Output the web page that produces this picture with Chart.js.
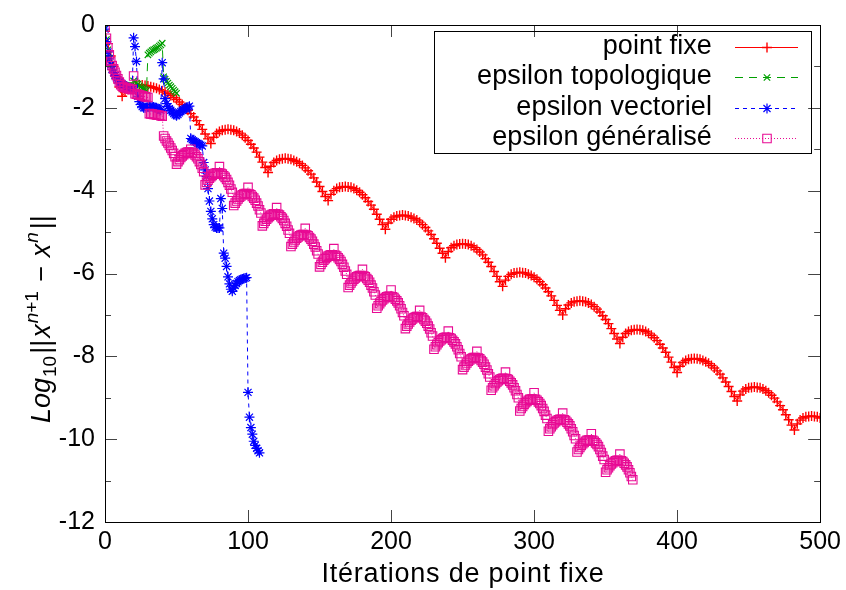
<!DOCTYPE html>
<html>
<head>
<meta charset="utf-8">
<script src="https://cdn.jsdelivr.net/npm/chart.js"></script>
<style>
  html, body { margin: 0; padding: 0; background: #fff; }
  #wrap { width: 846px; height: 590px; }
</style>
</head>
<body>
<div id="wrap"><canvas id="myChart" width="846" height="590"></canvas></div>
<script>
// axes
const xTicks = [0, 100, 200, 300, 400, 500];
const yMajorTicks = [0, -2, -4, -6, -8, -10, -12];
const yMinorTicks = [-1, -3, -5, -7, -9, -11];

const seriesNames = ['point fixe', 'epsilon topologique', 'epsilon vectoriel', 'epsilon généralisé'];

// point fixe : one value every 2 iterations, x = 0 .. 500
const pointFixe = [
  -0.15,-0.45,-0.75,-1.00,-1.25,-1.50,-1.72,-1.62,-1.55,-1.50,
  -1.47,-1.46,-1.45,-1.45,-1.46,-1.47,-1.49,-1.51,-1.53,-1.56,
  -1.59,-1.62,-1.66,-1.70,-1.75,-1.80,-1.86,-1.92,-1.99,-2.06,
  -2.14,-2.22,-2.31,-2.41,-2.52,-2.63,-2.75,
  -2.86,-2.71,-2.62,-2.57,-2.54,-2.53,-2.52,-2.53,-2.54,-2.57,
  -2.61,-2.66,-2.72,-2.79,-2.88,-2.97,-3.07,-3.19,-3.31,-3.44,
  -3.56,-3.41,-3.32,-3.27,-3.24,-3.23,-3.22,-3.23,-3.24,-3.27,
  -3.30,-3.34,-3.39,-3.45,-3.52,-3.60,-3.69,-3.79,-3.90,-4.02,-4.14,
  -4.24,-4.09,-4.00,-3.95,-3.92,-3.91,-3.90,-3.91,-3.92,-3.95,
  -3.99,-4.04,-4.10,-4.17,-4.26,-4.35,-4.45,-4.57,-4.69,-4.82,
  -4.93,-4.78,-4.69,-4.64,-4.61,-4.60,-4.59,-4.60,-4.61,-4.64,
  -4.67,-4.71,-4.76,-4.82,-4.89,-4.97,-5.06,-5.16,-5.27,-5.39,-5.51,
  -5.62,-5.47,-5.38,-5.33,-5.30,-5.29,-5.28,-5.29,-5.30,-5.33,
  -5.37,-5.42,-5.48,-5.55,-5.64,-5.73,-5.83,-5.95,-6.07,-6.20,
  -6.31,-6.16,-6.07,-6.02,-5.99,-5.98,-5.97,-5.98,-5.99,-6.02,
  -6.05,-6.09,-6.14,-6.20,-6.27,-6.35,-6.44,-6.54,-6.65,-6.77,-6.89,
  -7.00,-6.85,-6.76,-6.71,-6.68,-6.67,-6.66,-6.67,-6.68,-6.71,
  -6.75,-6.80,-6.86,-6.93,-7.02,-7.11,-7.21,-7.33,-7.45,-7.58,
  -7.69,-7.54,-7.45,-7.40,-7.37,-7.36,-7.35,-7.36,-7.37,-7.40,
  -7.44,-7.49,-7.55,-7.62,-7.71,-7.80,-7.90,-8.02,-8.14,-8.27,
  -8.39,-8.24,-8.15,-8.10,-8.07,-8.06,-8.05,-8.06,-8.07,-8.10,
  -8.13,-8.17,-8.22,-8.28,-8.35,-8.43,-8.52,-8.62,-8.73,-8.85,-8.97,
  -9.08,-8.93,-8.84,-8.79,-8.76,-8.75,-8.74,-8.75,-8.76,-8.79,
  -8.83,-8.88,-8.94,-9.01,-9.10,-9.19,-9.29,-9.41,-9.53,-9.66,
  -9.78,-9.63,-9.54,-9.49,-9.46,-9.45,-9.44,-9.45,-9.46,-9.49
];

// epsilon topologique : every iteration, x = 0 .. 50
const epsTopo = [
  -0.08,-0.35,-0.60,-0.80,-0.95,-1.06,-1.15,-1.22,-1.28,-1.33,
  -1.37,-1.40,-1.42,-1.44,-1.45,-1.46,-1.47,-1.48,-1.49,-1.50,
  -1.35,-1.37,-1.40,-1.43,-1.47,-1.50,-1.52,-1.54,-1.56,-1.58,
  -0.72,-0.68,-0.65,-0.62,-0.60,-0.58,-0.56,-0.54,-0.51,-0.48,
  -0.44,-1.25,-1.31,-1.36,-1.40,-1.45,-1.49,-1.53,-1.57,-1.61,-1.65
];

// epsilon vectoriel : every iteration, x = 0 .. 108
const epsVect = [
  -0.10,-0.40,-0.65,-0.82,-0.96,-1.07,-1.15,-1.22,-1.28,-1.33,
  -1.37,-1.40,-1.43,-1.45,-1.47,-1.49,-1.50,-1.52,-1.53,-1.55,
  -0.31,-0.52,-0.88,-1.72,-1.85,-1.92,-1.97,-2.00,-2.00,-1.99,
  -1.98,-1.97,-1.97,-1.97,-1.98,-1.99,-2.00,-2.02,-2.04,-2.06,
  -0.91,-1.30,-1.78,-1.90,-1.97,-2.02,-2.06,-2.10,-2.14,-2.17,
  -2.19,-2.16,-2.12,-2.09,-2.06,-2.04,-2.02,-2.00,-1.98,-1.96,
  -2.74,-2.77,-2.80,-2.82,-2.84,-2.86,-2.88,-2.90,-2.92,-3.32,
  -3.50,-3.66,-3.95,-4.25,-4.50,-4.68,-4.82,-4.88,-4.90,-4.90,
  -4.90,-4.19,-4.43,-5.51,-5.63,-5.83,-6.08,-6.25,-6.38,-6.43,
  -6.35,-6.29,-6.24,-6.20,-6.17,-6.15,-6.13,-6.12,-6.11,-6.10,
  -8.87,-9.47,-9.72,-9.88,-10.05,-10.15,-10.22,-10.28,-10.33
];

// epsilon généralisé : every iteration, x = 0 .. 369
const epsGen = [
  -0.05,-0.32,-0.55,-0.72,-0.88,-0.98,-1.06,-1.14,-1.22,-1.30,
  -1.38,-1.44,-1.48,-1.50,-1.51,-1.52,-1.53,-1.54,-1.55,-1.56,
  -1.23,-1.66,-1.67,-1.68,-1.69,-1.70,-1.71,-1.72,-1.73,-1.74,
  -1.75,-2.14,-2.15,-2.15,-2.16,-2.16,-2.17,-2.18,-2.18,-2.19,
  -2.20,-2.68,-2.74,-2.80,-2.85,-2.91,-2.97,-3.03,-3.10,-3.18,
  -3.36,-3.30,-3.25,-3.20,-3.16,-3.13,-3.10,-3.08,-3.07,-3.07,
  -3.00,-3.08,-3.10,-3.14,-3.18,-3.23,-3.30,-3.37,-3.46,-3.54,
  -3.86,-3.80,-3.75,-3.70,-3.66,-3.63,-3.60,-3.58,-3.57,-3.57,
  -3.42,-3.58,-3.60,-3.64,-3.68,-3.73,-3.80,-3.87,-3.96,-4.04,
  -4.36,-4.30,-4.25,-4.20,-4.16,-4.13,-4.10,-4.08,-4.07,-4.07,
  -3.92,-4.08,-4.10,-4.14,-4.18,-4.23,-4.30,-4.37,-4.46,-4.54,
  -4.85,-4.79,-4.74,-4.69,-4.65,-4.62,-4.59,-4.57,-4.56,-4.56,
  -4.41,-4.57,-4.59,-4.63,-4.67,-4.72,-4.79,-4.86,-4.95,-5.03,
  -5.35,-5.29,-5.24,-5.19,-5.15,-5.12,-5.09,-5.07,-5.06,-5.06,
  -4.91,-5.07,-5.09,-5.13,-5.17,-5.22,-5.29,-5.36,-5.45,-5.53,
  -5.84,-5.78,-5.73,-5.68,-5.64,-5.61,-5.58,-5.56,-5.55,-5.55,
  -5.40,-5.56,-5.58,-5.62,-5.66,-5.71,-5.78,-5.85,-5.94,-6.02,
  -6.34,-6.28,-6.23,-6.18,-6.14,-6.11,-6.08,-6.06,-6.05,-6.05,
  -5.90,-6.06,-6.08,-6.12,-6.16,-6.21,-6.28,-6.35,-6.44,-6.52,
  -6.84,-6.78,-6.73,-6.68,-6.64,-6.61,-6.58,-6.56,-6.55,-6.55,
  -6.40,-6.56,-6.58,-6.62,-6.66,-6.71,-6.78,-6.85,-6.94,-7.02,
  -7.33,-7.27,-7.22,-7.17,-7.13,-7.10,-7.07,-7.05,-7.04,-7.04,
  -6.89,-7.05,-7.07,-7.11,-7.15,-7.20,-7.27,-7.34,-7.43,-7.51,
  -7.83,-7.77,-7.72,-7.67,-7.63,-7.60,-7.57,-7.55,-7.54,-7.54,
  -7.39,-7.55,-7.57,-7.61,-7.65,-7.70,-7.77,-7.84,-7.93,-8.01,
  -8.32,-8.26,-8.21,-8.16,-8.12,-8.09,-8.06,-8.04,-8.03,-8.03,
  -7.88,-8.04,-8.06,-8.10,-8.14,-8.19,-8.26,-8.33,-8.42,-8.50,
  -8.82,-8.76,-8.71,-8.66,-8.62,-8.59,-8.56,-8.54,-8.53,-8.53,
  -8.38,-8.54,-8.56,-8.60,-8.64,-8.69,-8.76,-8.83,-8.92,-9.00,
  -9.32,-9.26,-9.21,-9.16,-9.12,-9.09,-9.06,-9.04,-9.03,-9.03,
  -8.88,-9.04,-9.06,-9.10,-9.14,-9.19,-9.26,-9.33,-9.42,-9.50,
  -9.81,-9.75,-9.70,-9.65,-9.61,-9.58,-9.55,-9.53,-9.52,-9.52,
  -9.37,-9.53,-9.55,-9.59,-9.63,-9.68,-9.75,-9.82,-9.91,-9.99,
  -10.31,-10.25,-10.20,-10.15,-10.11,-10.08,-10.05,-10.03,-10.02,-10.02,
  -9.87,-10.03,-10.05,-10.09,-10.13,-10.18,-10.25,-10.32,-10.41,-10.49,
  -10.80,-10.74,-10.69,-10.64,-10.60,-10.57,-10.54,-10.52,-10.51,-10.51,
  -10.36,-10.52,-10.54,-10.58,-10.62,-10.67,-10.74,-10.81,-10.90,-10.98
];

function toPoints(values, start, step) {
  return values.map((v, i) => ({ x: start + i * step, y: v }));
}

// no serif face renders in this environment, so a light sans is used
const face = '"Liberation Sans", Arial, sans-serif';

const styles = [
  { color: 'rgb(255,0,0)',    dash: [],     point: 'cross',    radius: 5,   width: 1.4 },
  { color: 'rgb(0,160,0)',    dash: [8, 6], point: 'crossRot', radius: 4.5, width: 1.2 },
  { color: 'rgb(0,0,255)',    dash: [4, 4], point: 'star',     radius: 5,   width: 1.2 },
  { color: 'rgb(232,10,148)', dash: [1, 2], point: 'rect',     radius: 6,   width: 1.1 }
];

const seriesData = [
  toPoints(pointFixe, 0, 2),
  toPoints(epsTopo, 0, 1),
  toPoints(epsVect, 0, 1),
  toPoints(epsGen, 0, 1)
];

const datasets = seriesNames.map((name, i) => ({
  label: name,
  data: seriesData[i],
  showLine: true,
  borderColor: styles[i].color,
  borderWidth: 1,
  borderDash: styles[i].dash,
  pointStyle: styles[i].point,
  pointRadius: styles[i].radius,
  pointBorderColor: styles[i].color,
  pointBackgroundColor: 'rgba(0,0,0,0)',
  pointBorderWidth: styles[i].width,
  order: 4 - i
}));

// inward ticks on all four sides, border box, titles and key
const frame = {
  id: 'frame',
  afterDatasetsDraw(chart) {
    const { ctx, chartArea: a, scales: { x, y } } = chart;
    ctx.save();
    ctx.setLineDash([]);
    ctx.lineWidth = 1;
    ctx.strokeStyle = '#444';
    ctx.beginPath();
    xTicks.forEach(v => {
      const px = Math.round(x.getPixelForValue(v)) + 0.5;
      ctx.moveTo(px, a.bottom); ctx.lineTo(px, a.bottom - 12);
      ctx.moveTo(px, a.top); ctx.lineTo(px, a.top + 12);
    });
    yMajorTicks.concat(yMinorTicks).forEach(v => {
      const py = Math.round(y.getPixelForValue(v)) + 0.5;
      const len = yMajorTicks.includes(v) ? 12 : 6;
      ctx.moveTo(a.left, py); ctx.lineTo(a.left + len, py);
      ctx.moveTo(a.right, py); ctx.lineTo(a.right - len, py);
    });
    ctx.stroke();
    ctx.strokeStyle = '#000';
    ctx.strokeRect(Math.round(a.left) + 0.5, Math.round(a.top) + 0.5,
      Math.round(a.right - a.left), Math.round(a.bottom - a.top));
    ctx.restore();
  },
  afterDraw(chart) {
    const ctx = chart.ctx;
    ctx.save();
    ctx.fillStyle = '#000';

    // x title
    ctx.font = '27px ' + face;
    ctx.textAlign = 'center';
    ctx.textBaseline = 'alphabetic';
    const tw = ctx.measureText('Itérations de point fixe').width;
    ctx.letterSpacing = Math.max(0, (283 - tw) / 24).toFixed(2) + 'px';
    ctx.fillText('Itérations de point fixe', 463, 582);
    ctx.letterSpacing = '0px';

    // y title, rotated, drawn piece by piece for sub/superscripts
    ctx.save();
    ctx.translate(50, 423);
    ctx.rotate(-Math.PI / 2);
    ctx.textAlign = 'left';
    let cx = 0;
    const piece = (txt, font, dy, gap) => {
      ctx.font = font;
      ctx.fillText(txt, cx, dy);
      cx += ctx.measureText(txt).width + (gap || 0);
    };
    const big = '27px ' + face, bigIt = 'italic 27px ' + face;
    const small = '19px ' + face, smallIt = 'italic 19px ' + face;
    piece('Log', bigIt, 0, 1);
    piece('10', small, 6, 2);
    piece('||', big, 0, 2);
    piece('x', bigIt, 0, 1);
    piece('n', smallIt, -12);
    piece('+1', small, -12, 2);
    piece(' \u2212 ', big, 0, 1);
    piece('x', bigIt, 0, 1);
    piece('n', smallIt, -12, 3);
    piece('||', big, 0);
    ctx.restore();

    // key
    const box = { left: 434, top: 31, right: 811, bottom: 153 };
    ctx.strokeStyle = '#000';
    ctx.lineWidth = 1;
    ctx.setLineDash([]);
    ctx.strokeRect(box.left + 0.5, box.top + 0.5, box.right - box.left, box.bottom - box.top);
    const rowY = [46.5, 77, 107.5, 138];
    ctx.font = '27px ' + face;
    ctx.textAlign = 'right';
    const lw = ctx.measureText('epsilon topologique').width;
    ctx.letterSpacing = Math.max(0, (235 - lw) / 19).toFixed(2) + 'px';
    chart.data.datasets.forEach((ds, i) => {
      const yy = rowY[i];
      ctx.fillStyle = '#000';
      ctx.fillText(ds.label, 712, yy + 7);
      ctx.strokeStyle = ds.borderColor;
      ctx.lineWidth = 1;
      ctx.setLineDash(ds.borderDash);
      ctx.beginPath();
      ctx.moveTo(735, Math.round(yy) + 0.5);
      ctx.lineTo(798, Math.round(yy) + 0.5);
      ctx.stroke();
      ctx.setLineDash([]);
      ctx.fillStyle = 'rgba(0,0,0,0)';
      ctx.lineWidth = ds.pointBorderWidth;
      Chart.helpers.drawPoint(ctx, {
        pointStyle: ds.pointStyle, radius: ds.pointRadius, borderWidth: 1, rotation: 0
      }, 767, Math.round(yy) + 0.5);
    });
    ctx.letterSpacing = '0px';
    ctx.restore();
  }
};

new Chart('myChart', {
  type: 'scatter',
  data: { datasets: datasets },
  options: {
    responsive: false,
    animation: false,
    devicePixelRatio: 1,
    events: [],
    layout: { padding: { left: 0, top: 22, right: 24, bottom: 0 } },
    plugins: {
      legend: { display: false },
      tooltip: { enabled: false }
    },
    elements: { line: { tension: 0 } },
    scales: {
      x: {
        type: 'linear',
        min: 0, max: 500,
        grid: { display: false, drawTicks: false },
        border: { display: false },
        ticks: {
          stepSize: 100, padding: 5, color: '#000',
          font: { family: face, size: 25 }
        },
        afterFit: s => { s.height = 68; }
      },
      y: {
        min: -12, max: 0,
        grid: { display: false, drawTicks: false },
        border: { display: false },
        ticks: {
          stepSize: 2, padding: 10, color: '#000',
          font: { family: face, size: 25 }
        },
        afterFit: s => { s.width = 105; }
      }
    }
  },
  plugins: [frame]
});
</script>
</body>
</html>
